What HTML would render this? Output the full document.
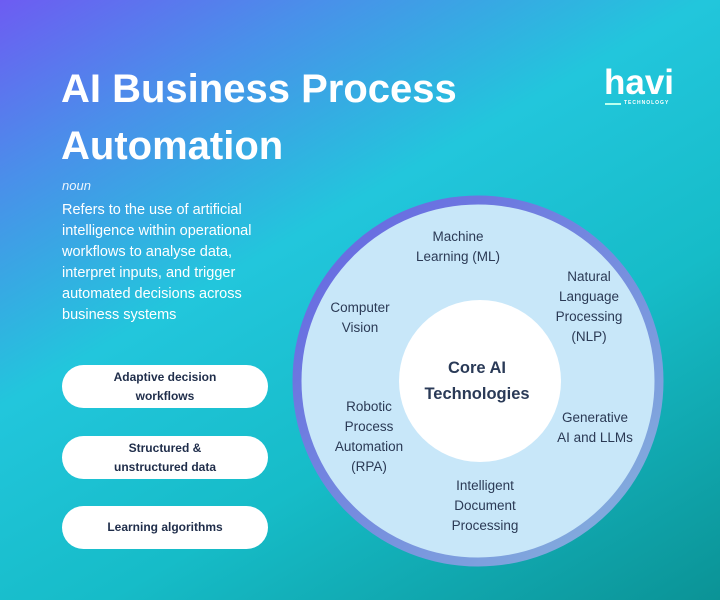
<!DOCTYPE html>
<html><head><style>
body{margin:0;width:720px;height:600px;overflow:hidden;font-family:"Liberation Sans",sans-serif;}
.bg{position:absolute;left:0;top:0;width:720px;height:600px;background:linear-gradient(150deg,#6d5cf2 0%,#4a8fea 18%,#22c6dc 40%,#16bcc8 65%,#0b9396 100%);}
.t{position:absolute;color:#fff;}
.pill{position:absolute;left:62px;width:206px;height:43px;background:#fff;border-radius:22px;display:flex;align-items:center;justify-content:center;text-align:center;font-weight:bold;font-size:12px;line-height:19px;color:#1f2d4a;}
.lab{position:absolute;font-size:13.5px;line-height:20px;color:#2b3a55;text-align:center;transform:translateX(-50%);white-space:nowrap;}
</style></head><body>
<div class="bg"></div>
<div class="t" style="left:61px;top:61px;font-size:40px;font-weight:bold;line-height:57px;">AI Business Process<br>Automation</div>
<div class="t" style="left:604px;top:63px;font-size:35px;font-weight:bold;line-height:40px;">havi</div>
<div style="position:absolute;left:605px;top:103px;width:16px;height:2px;background:#bfe;"></div>
<div class="t" style="left:624px;top:100px;font-size:5px;font-weight:bold;letter-spacing:1px;">TECHNOLOGY</div>
<div class="t" style="left:62px;top:178px;font-size:13px;font-style:italic;opacity:.9;">noun</div>
<div class="t" style="left:62px;top:200px;font-size:14.5px;line-height:21px;width:218px;">Refers to the use of artificial intelligence within operational workflows to analyse data, interpret inputs, and trigger automated decisions across business systems</div>
<div class="pill" style="top:365px;">Adaptive decision<br>workflows</div>
<div class="pill" style="top:436px;">Structured &amp;<br>unstructured data</div>
<div class="pill" style="top:506px;">Learning algorithms</div>
<svg style="position:absolute;left:0;top:0" width="720" height="600">
<defs><linearGradient id="g" x1="0" y1="0" x2="1" y2="1"><stop offset="0" stop-color="#6462e2"/><stop offset="1" stop-color="#86b4dc"/></linearGradient></defs>
<circle cx="478" cy="381" r="181" fill="#c8e7f9" stroke="url(#g)" stroke-width="9"/>
<circle cx="480" cy="381" r="81" fill="#fff"/>
</svg>
<div class="lab" style="left:458px;top:227px;">Machine<br>Learning (ML)</div>
<div class="lab" style="left:589px;top:267px;">Natural<br>Language<br>Processing<br>(NLP)</div>
<div class="lab" style="left:360px;top:298px;">Computer<br>Vision</div>
<div class="lab" style="left:369px;top:397px;">Robotic<br>Process<br>Automation<br>(RPA)</div>
<div class="lab" style="left:595px;top:408px;">Generative<br>AI and LLMs</div>
<div class="lab" style="left:485px;top:476px;">Intelligent<br>Document<br>Processing</div>
<div class="lab" style="left:477px;top:355px;font-size:16.5px;line-height:26px;font-weight:bold;color:#2a3a57;">Core AI<br>Technologies</div>
</body></html>
